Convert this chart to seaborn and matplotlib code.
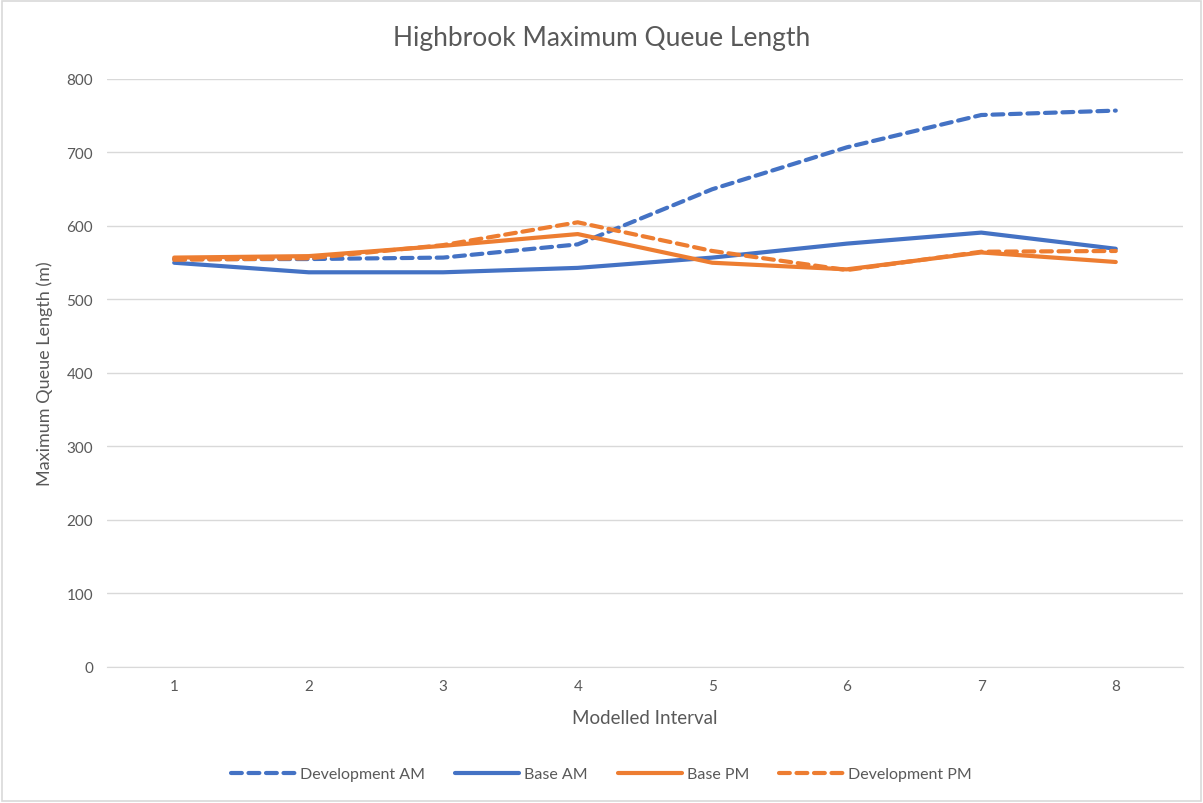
import pandas as pd
import matplotlib.pyplot as plt
import seaborn as sns
from matplotlib.lines import Line2D

# data
intervals = [1, 2, 3, 4, 5, 6, 7, 8]
dev_am = [555, 555, 557, 575, 650, 707, 751, 757]
base_am = [550, 537, 537, 543, 557, 576, 591, 569]
base_pm = [557, 559, 573, 589, 550, 541, 564, 551]
dev_pm = [554, 556, 574, 605, 566, 540, 565, 566]

series_names = ["Development AM", "Base AM", "Base PM", "Development PM"]
colours = {"Development AM": "#4472C4", "Base AM": "#4472C4",
           "Base PM": "#ED7D31", "Development PM": "#ED7D31"}
dash_map = {"Development AM": (2.6, 1.6), "Base AM": "",
            "Base PM": "", "Development PM": (2.6, 1.6)}

frames = []
for name, vals in zip(series_names, [dev_am, base_am, base_pm, dev_pm]):
    frames.append(pd.DataFrame({"interval": intervals, "length": vals, "series": name}))
df = pd.concat(frames, ignore_index=True)

sns.set_style("white")
plt.rcParams["font.family"] = ["Lato", "DejaVu Sans"]
text_col = "#595959"

fig = plt.figure(figsize=(12.03, 8.04), dpi=100)
ax = fig.add_axes([0.0889, 0.1692, 0.8945, 0.7313])

sns.lineplot(data=df, x="interval", y="length", hue="series", style="series",
             hue_order=series_names, style_order=series_names,
             palette=colours, dashes=dash_map, linewidth=3, ax=ax, legend=False)
for ln in ax.lines:
    ln.set_dash_capstyle("round")
    ln.set_solid_capstyle("round")

ax.set_xlim(0.5, 8.5)
ax.set_ylim(0, 800)
ax.set_xticks(intervals)
ax.set_yticks(range(0, 801, 100))
ax.grid(axis="y", color="#d9d9d9", linewidth=1)
ax.set_axisbelow(True)
for s in ["top", "right", "left"]:
    ax.spines[s].set_visible(False)
ax.spines["bottom"].set_color("#d9d9d9")
ax.tick_params(axis="x", length=0, labelsize=11, labelcolor=text_col, pad=9)
ax.tick_params(axis="y", length=0, labelsize=11, labelcolor=text_col, pad=10)

ax.set_xlabel("Modelled Interval", fontsize=13.5, color=text_col, labelpad=11)
ax.set_ylabel("Maximum Queue Length (m)", fontsize=13, color=text_col, labelpad=10)
fig.text(0.5, 0.952, "Highbrook Maximum Queue Length", ha="center", va="center",
         fontsize=19, color=text_col)

handles = [Line2D([], [], color=colours[n], linewidth=3,
                  linestyle=(0, dash_map[n]) if dash_map[n] else "-",
                  dash_capstyle="round")
           for n in series_names]
fig.legend(handles, series_names, loc="center", bbox_to_anchor=(0.5, 0.036),
           ncol=4, frameon=False, fontsize=11.5, labelcolor=text_col,
           handlelength=4.0, columnspacing=1.9, handletextpad=0.3)

fig.patches.append(plt.Rectangle((0.002, 0.002), 0.996, 0.996, transform=fig.transFigure,
                                 fill=False, edgecolor="#d9d9d9", linewidth=1.2))

fig.savefig("out.png", dpi=100)
